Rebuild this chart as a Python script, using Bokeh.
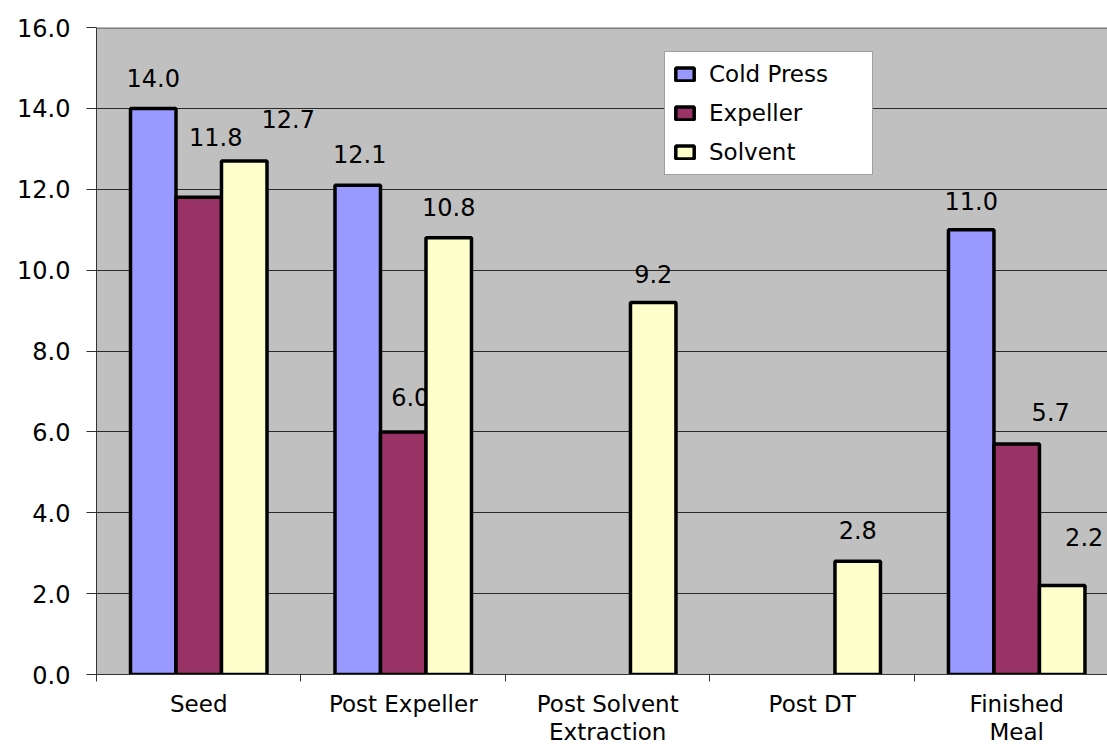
import math

from bokeh.core.properties import value
from bokeh.embed import file_html
from bokeh.models import BoxAnnotation, ColumnDataSource, FixedTicker, Legend, LegendItem, Range1d, Span
from bokeh.plotting import figure
from bokeh.resources import INLINE

# ---- data -------------------------------------------------------------
categories = ["Seed", "Post Expeller", "Post Solvent\nExtraction", "Post DT", "Finished\nMeal"]
cold_press = [14.0, 12.1, None, None, 11.0]
expeller = [11.8, 6.0, None, None, 5.7]
solvent = [12.7, 10.8, 9.2, 2.8, 2.2]
y_ticks = [0, 2, 4, 6, 8, 10, 12, 14, 16]
y_tick_labels = ["0.0", "2.0", "4.0", "6.0", "8.0", "10.0", "12.0", "14.0", "16.0"]

series_names = ["Cold Press", "Expeller", "Solvent"]
series_values = [cold_press, expeller, solvent]
series_colors = ["#9999FF", "#993366", "#FFFFCC"]

# ---- styling ----------------------------------------------------------
FONT = "DejaVu Sans"
BAR_WIDTH = 0.2225
series_shift = [-BAR_WIDTH, 0.0, BAR_WIDTH]
# value-label nudges in screen pixels (dx right, dy down), per series / category
label_dx = [[0, 2, 0, 0, 0], [17, 7, 0, 0, 34], [44, 0, 0, 0, 22]]
label_dy = [[1, 0, 0, 0, 2], [-29, -4, 0, 0, -1], [-11, 0, 3, 0, -18]]
LABEL_GAP = -31

p = figure(
    frame_width=1011,
    frame_height=647,
    x_range=Range1d(0, 4.944),
    y_range=Range1d(0, 16),
    output_backend="svg",
    toolbar_location=None,
    min_border_left=96,
    min_border_right=0,
    min_border_top=27,
    min_border_bottom=74,
)
p.background_fill_color = None
p.border_fill_color = "white"
p.outline_line_color = None

# grey plot area painted beneath the grid
p.add_layout(BoxAnnotation(fill_color="#C0C0C0", fill_alpha=1.0, line_color=None, level="image"))

# grid
p.xgrid.grid_line_color = None
p.ygrid.grid_line_color = "#2b2b2b"
p.ygrid.grid_line_width = 1

p.add_layout(Span(location=y_ticks[-1], dimension="width", line_color="#808080", line_width=3,
                  level="overlay"))

# y axis
p.yaxis.ticker = FixedTicker(ticks=y_ticks)
p.yaxis.major_label_overrides = {t: s for t, s in zip(y_ticks, y_tick_labels)}
p.yaxis.major_tick_out = 10
p.yaxis.major_tick_in = 0
p.yaxis.minor_tick_out = 0
p.yaxis.minor_tick_in = 0
p.yaxis.major_tick_line_color = "#333333"
p.yaxis.axis_line_color = "#333333"
p.yaxis.axis_line_width = 1
p.yaxis.major_label_standoff = 16
p.yaxis.major_label_text_font = FONT
p.yaxis.major_label_text_font_size = "24px"
p.yaxis.major_label_text_color = "black"

# x axis: labels at category centres, ticks on category boundaries
centres = [i + 0.5 for i in range(len(categories))]
p.xaxis.ticker = FixedTicker(ticks=centres, minor_ticks=list(range(len(categories) + 1)))
p.xaxis.major_label_overrides = {c: name for c, name in zip(centres, categories)}
p.xaxis.major_tick_out = 0
p.xaxis.major_tick_in = 0
p.xaxis.minor_tick_out = 7
p.xaxis.minor_tick_in = 0
p.xaxis.minor_tick_line_color = "#333333"
p.xaxis.axis_line_color = "#333333"
p.xaxis.major_label_standoff = 9
p.xaxis.major_label_text_font = FONT
p.xaxis.major_label_text_font_size = "23px"
p.xaxis.major_label_text_line_height = 1.1
p.xaxis.major_label_text_color = "black"

legend_items = []
for k, (name, vals, color) in enumerate(zip(series_names, series_values, series_colors)):
    xs, tops, texts, dxs, dys = [], [], [], [], []
    for i, v in enumerate(vals):
        if v is None or (isinstance(v, float) and math.isnan(v)):
            continue
        xs.append(centres[i] + series_shift[k])
        tops.append(v)
        texts.append(f"{v:.1f}")
        dxs.append(label_dx[k][i])
        dys.append(LABEL_GAP + label_dy[k][i])
    src = ColumnDataSource(dict(x=xs, top=tops, label=texts, dx=dxs, dy=dys))
    r = p.vbar(
        x="x", top="top", width=BAR_WIDTH, source=src,
        fill_color=color, line_color="black", line_width=3.5,
    )
    p.text(
        x="x", y="top", text="label", x_offset="dx", y_offset="dy", source=src,
        text_align="center", text_baseline="middle",
        text_font=value(FONT), text_font_size="24px", text_color="black",
    )
    legend_items.append(LegendItem(label=name, renderers=[r]))

legend = Legend(
    items=legend_items,
    location=(568, 499),
    label_text_font=FONT,
    label_text_font_size="23px",
    label_text_color="black",
    glyph_width=23,
    glyph_height=16,
    label_standoff=13,
    label_height=28,
    label_width=155,
    spacing=11,
    padding=8,
    margin=0,
    border_line_color="#404040",
    border_line_width=1,
    background_fill_color="white",
    background_fill_alpha=1.0,
)
p.add_layout(legend)

open("out.html", "w").write(file_html(p, INLINE))
